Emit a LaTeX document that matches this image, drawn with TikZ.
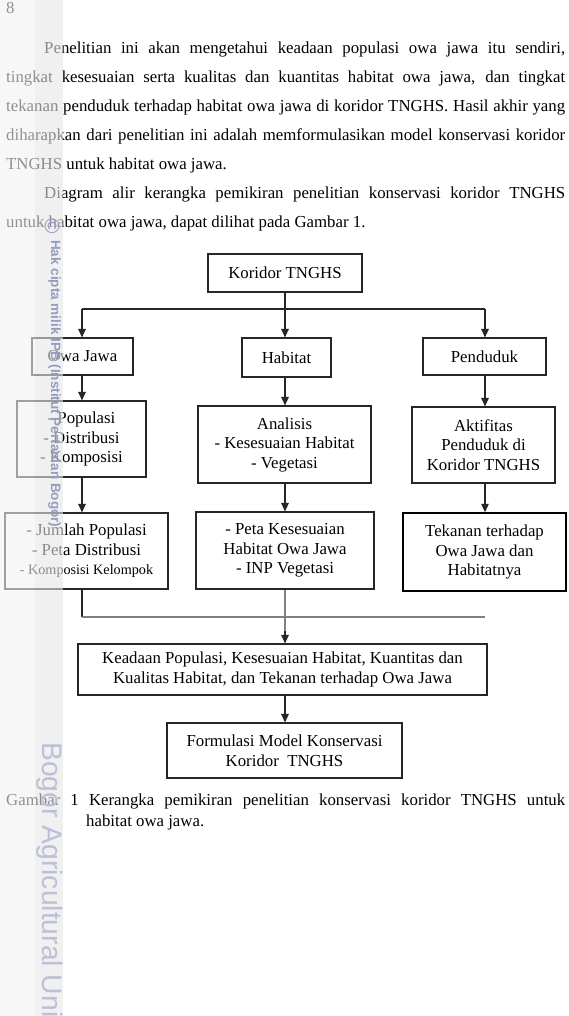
\documentclass[tikz,border=0pt]{standalone}
\usepackage{fontspec}
\setmainfont{Liberation Serif}
\newfontfamily\wmfont{Liberation Sans}
\usetikzlibrary{arrows.meta}
\definecolor{wmdark}{RGB}{150,156,192}
\definecolor{wmlight}{RGB}{188,192,214}
\definecolor{bandA}{RGB}{242,242,242}
\definecolor{bandB}{RGB}{230,230,232}
\newcommand\bodyfs{\fontsize{16.8pt}{19.5pt}\selectfont}
\newcommand\smallfs{\fontsize{14.2pt}{19.5pt}\selectfont}
\tikzset{
  box/.style={draw=black!85, line width=1.1pt, align=center, inner sep=0pt, font=\bodyfs},
  conn/.style={line width=1.1pt, draw=black!85},
  arr/.style={conn, -{Triangle[length=8.5pt,width=7.5pt]}},
  greyline/.style={line width=1.8pt, draw=black!50},
  ptext/.style={anchor=base west, inner sep=0pt, font=\bodyfs},
}
\begin{document}
\begin{tikzpicture}[x=1pt,y=-1pt]
\fill[white] (0,0) rectangle (569,1016);
\useasboundingbox (0,0) rectangle (569,1016);

% page number and paragraphs
\node[ptext] (pg) at (6,13.5) {8};
\node[ptext] (l1) at (44,54) {\makebox[521pt][s]{Penelitian ini akan mengetahui keadaan populasi owa jawa itu sendiri,}};
\node[ptext] (l2) at (6,83) {\makebox[559pt][s]{tingkat kesesuaian serta kualitas dan kuantitas habitat owa jawa, dan tingkat}};
\node[ptext] (l3) at (6,112) {\makebox[559pt][s]{tekanan penduduk terhadap habitat owa jawa di koridor TNGHS. Hasil akhir yang}};
\node[ptext] (l4) at (6,141) {\makebox[559pt][s]{diharapkan dari penelitian ini adalah memformulasikan model konservasi koridor}};
\node[ptext] (l5) at (6,170) {TNGHS untuk habitat owa jawa.};
\node[ptext] (l6) at (44,199) {\makebox[521pt][s]{Diagram alir kerangka pemikiran penelitian konservasi koridor TNGHS}};
\node[ptext] (l7) at (6,228) {untuk habitat owa jawa, dapat dilihat pada Gambar 1.};

% boxes
\node[box, minimum width=154pt, minimum height=38pt] (kor) at (285,273) {Koridor TNGHS};
\node[box, minimum width=101pt, minimum height=37pt] (owa) at (82.5,356.5) {Owa Jawa};
\node[box, minimum width=89pt, minimum height=39pt] (hab) at (286.5,357.5) {Habitat};
\node[box, minimum width=123pt, minimum height=37pt] (pen) at (484.5,356.5) {Penduduk};
\node[box, minimum width=129pt, minimum height=76pt] (pop) at (81.5,439) {- Populasi\\- Distribusi\\- Komposisi};
\node[box, minimum width=173pt, minimum height=77pt] (ana) at (284.5,444.5) {Analisis\\- Kesesuaian Habitat\\- Vegetasi};
\node[box, minimum width=143pt, minimum height=76pt] (akt) at (483.5,445) {Aktifitas\\Penduduk di\\Koridor TNGHS};
\node[box, minimum width=163pt, minimum height=76pt] (jum) at (86.5,551) {- Jumlah Populasi\\- Peta Distribusi\\{\smallfs - Komposisi Kelompok}};
\node[box, minimum width=178pt, minimum height=77pt] (peta) at (285,550.5) {- Peta Kesesuaian\\Habitat Owa Jawa\\- INP Vegetasi};
\node[box, minimum width=163pt, minimum height=78pt, line width=1.4pt, draw=black] (tek) at (484.5,552) {Tekanan terhadap\\Owa Jawa dan\\Habitatnya};
\node[box, minimum width=409pt, minimum height=51pt] (kea) at (282.5,669.5) {Keadaan Populasi, Kesesuaian Habitat, Kuantitas dan\\Kualitas Habitat, dan Tekanan terhadap Owa Jawa};
\node[box, minimum width=235pt, minimum height=55pt] (for) at (284.5,750.5) {Formulasi Model Konservasi\\Koridor\ \ TNGHS};

% connectors
\coordinate (bl) at (82,309);
\coordinate (bc) at (285,309);
\coordinate (brr) at (485,309);
\coordinate (ml) at (82,617);
\coordinate (mr) at (485,617);
\coordinate (cx) at (285,0);
\draw[arr] (kor.south -| cx) -- (cx |- hab.north);
\draw[conn] (bl) -- (brr);
\draw[arr] (bl) -- (bl |- owa.north);
\draw[arr] (brr) -- (brr |- pen.north);
\draw[arr] (owa.south -| bl) -- (bl |- pop.north);
\draw[arr] (hab.south -| cx) -- (cx |- ana.north);
\draw[arr] (pen.south -| brr) -- (brr |- akt.north);
\draw[arr] (pop.south -| bl) -- (bl |- jum.north);
\draw[arr] (ana.south -| cx) -- (cx |- peta.north);
\draw[arr] (akt.south -| brr) -- (brr |- tek.north);
\draw[conn] (jum.south -| ml) -- (ml);
\draw[greyline] (ml) -- (mr);
\draw[greyline] (peta.south -| cx) -- ([yshift=12pt]cx |- kea.north);
\draw[arr] ([yshift=12pt]cx |- kea.north) -- (cx |- kea.north);
\draw[arr] (kea.south -| cx) -- (cx |- for.north);

% caption
\node[ptext] (cap1) at (6,805) {\makebox[559pt][s]{Gambar 1 Kerangka pemikiran penelitian konservasi koridor TNGHS untuk}};
\node[ptext] (cap2) at (86,826) {habitat owa jawa.};

% left band overlay
\fill[bandA, opacity=0.6] (0,0) rectangle (35,1016);
\fill[bandB, opacity=0.6] (35,0) rectangle (63,1016);

% watermarks
\node[rotate=-90, inner sep=0pt, text=wmdark, font=\wmfont\fontsize{21}{21}\selectfont] (cpy) at (52,226) {©};
\node[rotate=-90, anchor=base west, inner sep=0pt, text=wmdark, font=\wmfont\bfseries\fontsize{13.5}{13.5}\selectfont] (wm1) at (51,240) {Hak cipta milik IPB (Institut Pertanian Bogor)};
\node[rotate=-90, anchor=base west, inner sep=0pt, text=wmlight, font=\wmfont\fontsize{28.3}{28.3}\selectfont] (wm2) at (42,742) {Bogor Agricultural Uni};
\end{tikzpicture}
\end{document}
